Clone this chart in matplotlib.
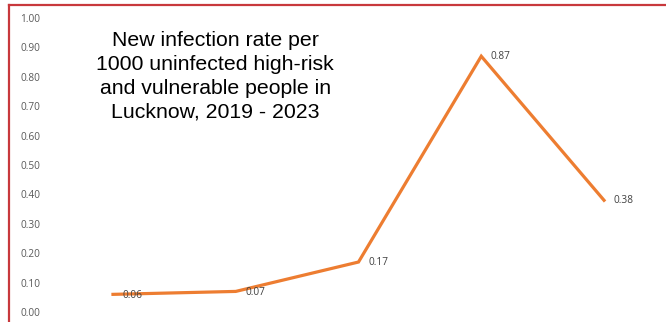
import matplotlib.pyplot as plt
from matplotlib.lines import Line2D

# data
years = ['2019', '2020', '2021', '2022', '2023']
rates = [0.06, 0.07, 0.17, 0.87, 0.38]
rate_labels = ['0.06', '0.07', '0.17', '0.87', '0.38']
y_ticks = [0.0, 0.1, 0.2, 0.3, 0.4, 0.5, 0.6, 0.7, 0.8, 0.9, 1.0]

title = 'New infection rate per\n1000 uninfected high-risk\nand vulnerable people in\nLucknow, 2019 - 2023'

W, H = 666, 322
fig = plt.figure(figsize=(W / 100, H / 100), dpi=100)
fig.patch.set_facecolor('white')

# axes placed in pixel terms: x categories centred, y from 0 (y=312) to 1 (y=18)
left, right = 51.6, 665.4
top_px, bot_px = 18, 312
ax = fig.add_axes([left / W, (H - bot_px) / H, (right - left) / W, (bot_px - top_px) / H])
ax.set_xlim(-0.5, len(years) - 0.5)
ax.set_ylim(0, 1)

x = list(range(len(years)))
ax.plot(x, rates, color='#ED7D31', lw=2.3, solid_joinstyle='miter', clip_on=False)

for xi, v, lab in zip(x, rates, rate_labels):
    ax.annotate(lab, (xi, v), xytext=(7, -0.5), textcoords='offset points',
                ha='left', va='center', fontsize=7.3, color='#404040',
                family='Open Sans')

ax.set_yticks(y_ticks)
ax.set_yticklabels([f'{t:.2f}' for t in y_ticks], fontsize=7.3, color='#595959',
                   family='Open Sans')
ax.tick_params(axis='y', length=0, pad=8)
ax.set_xticks(x)
ax.set_xticklabels([])
ax.tick_params(axis='x', length=0)
for s in ax.spines.values():
    s.set_visible(False)

ax.text(0.323, 0.763, title, transform=fig.transFigure, ha='center', va='center',
        fontsize=15.3, color='black', family='Liberation Sans', linespacing=1.33)

# red frame: only the top and left edges show in the crop
red = '#C8383C'
fig.lines.append(Line2D([9 / W, 1.0], [(H - 5) / H] * 2, transform=fig.transFigure,
                        color=red, lw=1.6))
fig.lines.append(Line2D([9 / W] * 2, [0.0, (H - 5) / H], transform=fig.transFigure,
                        color=red, lw=1.6, solid_capstyle='projecting'))

fig.savefig('out.png', dpi=100)
